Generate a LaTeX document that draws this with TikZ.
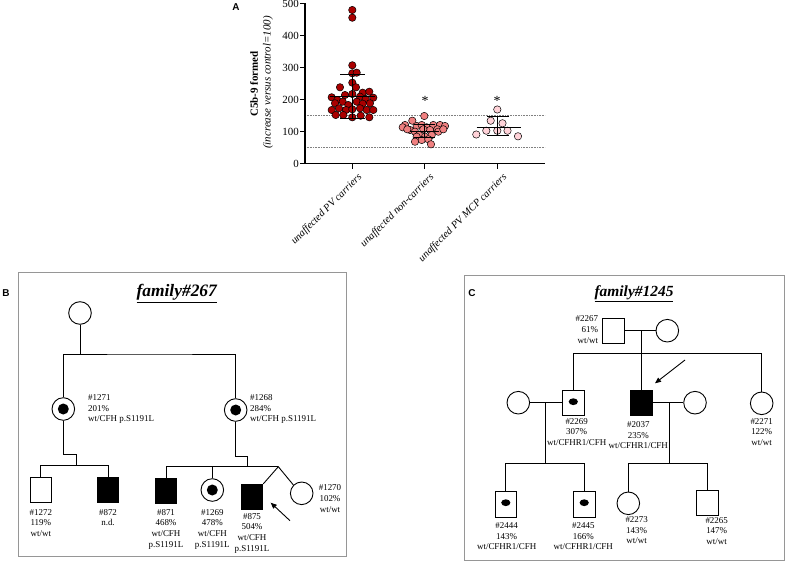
\documentclass[tikz,border=0pt]{standalone}
\usepackage{fontspec}
\setmainfont{Liberation Serif}
\newfontfamily\lsans{Liberation Sans}
\usetikzlibrary{arrows.meta}
\definecolor{grpA}{RGB}{170,0,0}
\definecolor{grpB}{RGB}{240,128,128}
\definecolor{grpC}{RGB}{255,210,216}
\definecolor{boxgray}{RGB}{150,150,150}
\begin{document}
\begin{tikzpicture}[x=1bp,y=-1bp,
  axis/.style={line width=1.1bp},
  ref/.style={gray,line width=0.6bp,dash pattern=on 0.8bp off 0.8bp},
  dotA/.style={fill=grpA,draw=black,line width=0.5bp},
  dotB/.style={fill=grpB,draw=black,line width=0.5bp},
  dotC/.style={fill=grpC,draw=black,line width=0.5bp},
  ebar/.style={line width=0.9bp},
  ticklab/.style={font=\fontsize{11}{12}\selectfont,anchor=east,inner sep=1bp},
  catlab/.style={font=\fontsize{10.5}{12}\selectfont\itshape,anchor=north east,rotate=45,inner sep=0pt},
  panel/.style={font=\lsans\bfseries\fontsize{10}{12}\selectfont,inner sep=0pt},
  frame/.style={draw=boxgray,line width=0.8bp},
  ttl/.style={font=\fontsize{15.5}{17}\selectfont\bfseries\itshape,inner sep=0pt},
  star/.style={font=\fontsize{14}{14}\selectfont,inner sep=0pt},
  ped/.style={line width=0.9bp},
  fem/.style={circle,draw,line width=0.9bp,minimum size=22.6bp,inner sep=0pt},
  mal/.style={rectangle,draw,line width=0.9bp,minimum width=21.6bp,minimum height=25.3bp,inner sep=0pt},
  aff/.style={fill=black},
  lab/.style={font=\fontsize{9}{10.6}\selectfont,align=center,inner sep=0pt,anchor=north},
  arr/.style={line width=0.9bp,-{Triangle[length=6bp,width=5bp]}}
]
\useasboundingbox (0,0) rectangle (792,567);

% ---------------- Panel A ----------------
\node[panel] (lA) at (236,7) {A};
\draw[ref] (305,115.5) -- (545,115.5);
\draw[ref] (305,147.5) -- (545,147.5);
\draw[axis] (305,3.5) -- (305,163.5) -- (545,163.5);
\foreach \v in {0,100,200,300,400,500}{
  \draw[axis] (300,163.5-0.32*\v) -- (305,163.5-0.32*\v);
  \node[ticklab] at (300,163.5-0.32*\v) {\v};
}
\foreach \xx in {352.3,424.3,497.3}{
  \draw[axis] (\xx,163.5) -- (\xx,169);
}
\node[font=\fontsize{11}{12}\selectfont\bfseries,rotate=90] (ylab1) at (254,84) {C5b-9 formed};
\node[font=\fontsize{11}{12}\selectfont\itshape,rotate=90] (ylab2) at (268,82.5) {(increase versus control=100)};
\node[catlab] (c1) at (357,172) {unaffected PV carriers};
\node[catlab] (c2) at (429,172) {unaffected non-carriers};
\node[catlab] (c3) at (502,172) {unaffected PV MCP carriers};

% group 1
\foreach \px/\py in {352.3/10,352.3/17.7,352.3/65.3,352.3/73.3,356.7/72.7,352.3/82.7,340/87.3,356/87.3,362.7/92.7,369.3/91.7,
  331.7/97.3,337.3/100,345/95,352.3/94,360/96.7,365.7/99,373.3/97.7,
  335/103.3,342.7/101.7,348.3/105,356.7/101.7,362.7/103.7,370/103.3,
  331.7/110,339/108.3,346/110,352.3/109.3,360/108.3,366.7/110,373.3/110,
  335.7/115,343.3/115,352.3/117.3,360.7/115.7,369.3/117.3}{
  \draw[dotA] (\px,\py) circle[radius=3.7bp];
}
% group 2
\foreach \px/\py in {424.3/116,412.3/120.7,405/125,402.7/127.3,410/130,416.7/126,421.7/125,426.7/127.3,433.3/125,440/125,445/126,
  437.3/129.3,430/130,423.3/129.3,415/131.7,419/135,425/136.7,431.7/135,438.3/131.7,416.7/136.7,421.7/140,428.3/139.3,431/144.3,415/141.7,407.3/129.3,443.3/129.3}{
  \draw[dotB] (\px,\py) circle[radius=3.7bp];
}
% group 3
\foreach \px/\py in {497.3/109.5,490.7/120.7,502.5/123.3,476.3/134.5,486.3/130.7,497.3/130.7,507.5/130.7,518/136.3}{
  \draw[dotC] (\px,\py) circle[radius=3.7bp];
}
% error bars
\draw[ebar] (352.3,74) -- (352.3,118);
\draw[ebar] (340,74) -- (365,74);
\draw[ebar] (340,118) -- (365,118);
\draw[ebar] (330,96) -- (375,96);
\draw[ebar] (424.3,124) -- (424.3,137);
\draw[ebar] (414,124) -- (435,124);
\draw[ebar] (414,137) -- (435,137);
\draw[ebar] (410,131) -- (439,131);
\draw[ebar] (497.3,116.7) -- (497.3,135.7);
\draw[ebar] (487,116.7) -- (509,116.7);
\draw[ebar] (487,135.7) -- (509,135.7);
\draw[ebar] (476.7,127.3) -- (520.7,127.3);
\node[star] (s2) at (425,101) {*};
\node[star] (s3) at (497,101) {*};

% ---------------- Panel B ----------------
\node[panel] (lB) at (6,293) {B};
\draw[frame] (18.3,272.7) rectangle (346.7,556);
\node[ttl,font=\fontsize{17.5}{19}\selectfont\bfseries\itshape] (tB) at (176.7,293.3) {\underline{family\#267}};

\node[fem] (f0) at (80,313) {};
\node[fem] (p1271) at (63.3,409) {};
\fill (p1271.center) circle[radius=5.5bp];
\node[fem] (p1268) at (235.7,410) {};
\fill (p1268.center) circle[radius=5.5bp];
\draw[ped] (f0.south) -- (80,354);
\draw[ped] (p1271.north) |- (150,354) -| (p1268.north);
\node[lab,anchor=north west,align=left] (L1271) at (88,394.5) {\#1271\\201\%\\wt/CFH p.S1191L};
\node[lab,anchor=north west,align=left] (L1268) at (250,394.5) {\#1268\\284\%\\wt/CFH p.S1191L};

\node[mal] (p1272) at (40.8,489.7) {};
\node[mal,aff] (p872) at (108,489.7) {};
\draw[ped] (p1271.south) -- (63.3,454) -- (76,454) -- (76,465.5);
\draw[ped] (p1272.north) |- (80,465.5) -| (p872.north);
\node[lab] (L1272) at (40.8,509.2) {\#1272\\119\%\\wt/wt};
\node[lab] (L872) at (108,509.2) {\#872\\n.d.};

\node[mal,aff] (p871) at (166,490.6) {};
\node[fem] (p1269) at (212.3,490) {};
\fill (p1269.center) circle[radius=5.5bp];
\node[mal,aff] (p875) at (252,497) {};
\node[fem] (p1270) at (301.7,493.3) {};
\coordinate (tw) at (278.3,466.7);
\draw[ped] (p1268.south) -- (235.7,456) -- (247.3,456) -- (247.3,466.7);
\draw[ped] (p871.north) |- (tw);
\draw[ped] (p1269.north) -- (212.3,466.7);
\draw[ped] (p875.north east) -- (tw) -- (p1270.135);
\node[lab] (L871) at (166,509.2) {\#871\\468\%\\wt/CFH\\p.S1191L};
\node[lab] (L1269) at (212.3,509.2) {\#1269\\478\%\\wt/CFH\\p.S1191L};
\node[lab] (L875) at (252,513.2) {\#875\\504\%\\wt/CFH\\p.S1191L};
\node[lab] (L1270) at (330,484.8) {\#1270\\102\%\\wt/wt};
\coordinate (aB) at (290,520.7);
\draw[arr] (aB) -- (270.7,502.7);

% ---------------- Panel C ----------------
\node[panel] (lC) at (472,293) {C};
\draw[frame] (464.3,275) rectangle (784,560);
\node[ttl] (tC) at (634,293.3) {\underline{family\#1245}};

\node[mal] (p2267) at (613.2,330.7) {};
\node[fem] (w2267) at (667.3,330.7) {};
\draw[ped] (p2267.east) -- (w2267.west);
\node[lab,anchor=north east,align=right] (L2267) at (598.3,315.8) {\#2267\\61\%\\wt/wt};

\node[mal] (p2269) at (573.3,402.7) {};
\fill (573.3,401.7) ellipse[x radius=4.6bp,y radius=3.4bp];
\node[mal,aff] (p2037) at (641.5,402.7) {};
\node[fem] (p2271) at (761.7,403.3) {};
\node[fem] (sp1) at (518.3,402.7) {};
\node[fem] (sp2) at (695,402.7) {};
\draw[ped] (641.5,330.7) -- (p2037.north);
\draw[ped] (p2269.north) |- (761.7,353.3) -- (p2271.north);
\draw[ped] (sp1.east) -- (p2269.west);
\draw[ped] (p2037.east) -- (sp2.west);
\node[lab] (L2269) at (576.7,418.2) {\#2269\\307\%\\wt/CFHR1/CFH};
\node[lab] (L2037) at (638.3,421.5) {\#2037\\235\%\\wt/CFHR1/CFH};
\node[lab] (L2271) at (761.7,418.2) {\#2271\\122\%\\wt/wt};
\coordinate (aC) at (685,360);
\draw[arr] (aC) -- (655,383.3);

\node[mal] (p2444) at (505.8,504.3) {};
\fill (505.8,502.7) ellipse[x radius=4.6bp,y radius=3.4bp];
\node[mal] (p2445) at (584.2,504.3) {};
\fill (584.2,502.7) ellipse[x radius=4.6bp,y radius=3.4bp];
\draw[ped] (545,402.7) -- (545,463.3);
\draw[ped] (p2444.north) |- (545,463.3) -| (p2445.north);

\node[fem] (p2273) at (628.3,503.3) {};
\node[mal] (p2265) at (707.5,502.8) {};
\draw[ped] (669.3,402.7) -- (669.3,463.3);
\draw[ped] (p2273.north) |- (669.3,463.3) -| (p2265.north);

\node[lab] (L2444) at (506.7,522.5) {\#2444\\143\%\\wt/CFHR1/CFH};
\node[lab] (L2445) at (583.3,522.5) {\#2445\\166\%\\wt/CFHR1/CFH};
\node[lab] (L2273) at (636.7,516.5) {\#2273\\143\%\\wt/wt};
\node[lab] (L2265) at (716.7,517.2) {\#2265\\147\%\\wt/wt};
\end{tikzpicture}
\end{document}
